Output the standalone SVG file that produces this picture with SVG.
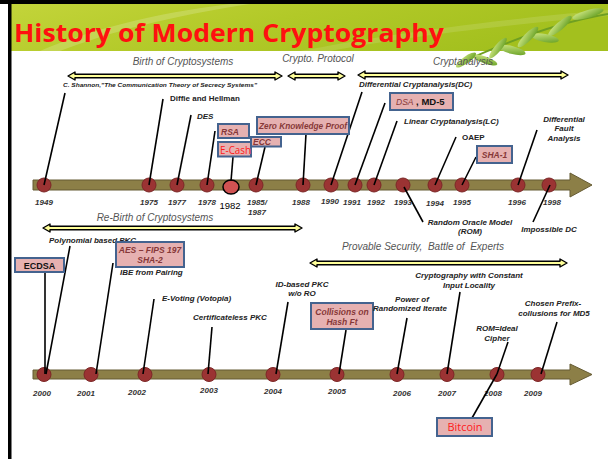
<svg xmlns="http://www.w3.org/2000/svg" width="608" height="459" viewBox="0 0 608 459">
<defs>
<linearGradient id="hdr" x1="0" y1="0" x2="1" y2="0.3">
<stop offset="0" stop-color="#c3d43a"/>
<stop offset="0.5" stop-color="#b2c928"/>
<stop offset="1" stop-color="#a3c01e"/>
</linearGradient>
<linearGradient id="leaf" x1="0" y1="0" x2="1" y2="1">
<stop offset="0" stop-color="#d6ec8a"/>
<stop offset="1" stop-color="#5e9a1c"/>
</linearGradient>
<style>
.t{font-family:"Liberation Sans",Arial,sans-serif;font-weight:bold;font-style:italic;font-size:8px;fill:#222}
.u{font-family:"Liberation Sans",Arial,sans-serif;font-weight:bold;font-size:8px;fill:#222}
.yr{font-family:"Liberation Sans",Arial,sans-serif;font-weight:bold;font-style:italic;font-size:8px;fill:#333;text-anchor:middle}
.sec{font-family:"Liberation Sans",Arial,sans-serif;font-style:italic;font-size:10px;fill:#555;text-anchor:middle;white-space:pre}
.bx{fill:#e6b1b1;stroke:#44638f;stroke-width:2}
.bt{font-family:"Liberation Sans",Arial,sans-serif;font-weight:bold;font-style:italic;font-size:8.5px;fill:#863838}
.rd{font-family:"Open Sans","Liberation Sans",sans-serif;font-size:11px;fill:#ff1a1a}
.dot{fill:#9b3333;stroke:#7c2727;stroke-width:1}
.bar{fill:#8c7f47;stroke:#655b33;stroke-width:1}
.da{fill:#ffff99;stroke:#000;stroke-width:1.4;stroke-linejoin:round}
.c line{stroke:#000;stroke-width:1.6}
.m{text-anchor:middle}
</style>
</defs>
<rect width="608" height="459" fill="#fff"/>
<g id="header">
<rect x="11" y="4" width="597" height="47" fill="url(#hdr)"/>
<path d="M40 51 C90 30 150 14 230 4 L250 4 C170 16 110 32 60 51 Z" fill="#ffffff" opacity="0.18"/>
<path d="M300 51 C380 36 470 22 608 10 L608 16 C470 28 390 40 330 51 Z" fill="#ffffff" opacity="0.12"/>
<rect x="0" y="0" width="608" height="4" fill="#000"/>
<rect x="8" y="0" width="3.5" height="459" fill="#000"/>
<text x="14" y="42" font-family="Open Sans,Liberation Sans,sans-serif" font-weight="bold" font-size="25" fill="#ff1010" textLength="430" lengthAdjust="spacingAndGlyphs">History of Modern Cryptography</text>
</g>
<g id="leaves">
<path d="M608 14 C560 22 510 40 458 64" fill="none" stroke="#6f9f22" stroke-width="2"/>
<ellipse cx="588" cy="14" rx="16" ry="4" transform="rotate(-15 588 14)" fill="url(#leaf)"/>
<ellipse cx="560" cy="26" rx="15" ry="4" transform="rotate(-40 560 26)" fill="url(#leaf)"/>
<ellipse cx="545" cy="38" rx="14" ry="4" transform="rotate(10 545 38)" fill="url(#leaf)"/>
<ellipse cx="528" cy="37" rx="14" ry="4" transform="rotate(-45 528 37)" fill="url(#leaf)"/>
<ellipse cx="512" cy="50" rx="14" ry="4" transform="rotate(15 512 50)" fill="url(#leaf)"/>
<ellipse cx="498" cy="48" rx="13" ry="3.5" transform="rotate(-50 498 48)" fill="url(#leaf)"/>
<ellipse cx="485" cy="60" rx="13" ry="3.5" transform="rotate(20 485 60)" fill="url(#leaf)"/>
<ellipse cx="466" cy="60" rx="12" ry="3.5" transform="rotate(-35 466 60)" fill="url(#leaf)"/>
</g>
<g id="sections">
<text class="sec" x="183" y="65">Birth of Cryptosystems</text>
<text class="sec" x="318" y="62">Crypto. Protocol</text>
<text class="sec" x="463" y="65">Cryptanalysis</text>
<path class="da" d="M68 76 L75 72 L75 74.2 L275 74.2 L275 72 L282 76 L275 80 L275 77.8 L75 77.8 L75 80 Z"/>
<path class="da" d="M288 76 L295 72 L295 74.2 L338 74.2 L338 72 L345 76 L338 80 L338 77.8 L295 77.8 L295 80 Z"/>
<path class="da" d="M358 75 L365 71 L365 73.2 L561 73.2 L561 71 L568 75 L561 79 L561 76.8 L365 76.8 L365 79 Z"/>
<text class="sec" x="155" y="221">Re-Birth of Cryptosystems</text>
<text class="sec" x="423" y="250">Provable Security,  Battle of  Experts</text>
<path class="da" d="M43 228 L50 224 L50 226.2 L295 226.2 L295 224 L302 228 L295 232 L295 229.8 L50 229.8 L50 232 Z"/>
<path class="da" d="M310 263 L317 259 L317 261.2 L560 261.2 L560 259 L567 263 L560 267 L560 264.8 L317 264.8 L317 267 Z"/>
</g>
<g id="timeline-top">
<path class="bar" d="M33 180 H570 V173 L592 185 L570 197 V190 H33 Z"/>
<circle class="dot" cx="44" cy="185" r="7"/>
<circle class="dot" cx="149" cy="185" r="7"/>
<circle class="dot" cx="177" cy="185" r="7"/>
<circle class="dot" cx="207" cy="185" r="7"/>
<ellipse cx="231" cy="187" rx="8" ry="7" fill="#d05252" stroke="#000" stroke-width="1.5"/>
<circle class="dot" cx="256" cy="185" r="7"/>
<circle class="dot" cx="303" cy="185" r="7"/>
<circle class="dot" cx="331" cy="185" r="7"/>
<circle class="dot" cx="355" cy="185" r="7"/>
<circle class="dot" cx="374" cy="185" r="7"/>
<circle class="dot" cx="403" cy="185" r="7"/>
<circle class="dot" cx="435" cy="185" r="7"/>
<circle class="dot" cx="462" cy="185" r="7"/>
<circle class="dot" cx="518" cy="185" r="7"/>
<circle class="dot" cx="549" cy="185" r="7"/>
<text class="yr" x="44" y="205">1949</text>
<text class="yr" x="149" y="205">1975</text>
<text class="yr" x="177" y="205">1977</text>
<text class="yr" x="207" y="205">1978</text>
<text x="230" y="209" font-family="Liberation Sans,Arial,sans-serif" font-size="9.5" fill="#000" text-anchor="middle">1982</text>
<text class="yr" x="257" y="205">1985/</text>
<text class="yr" x="257" y="215">1987</text>
<text class="yr" x="301" y="205">1988</text>
<text class="yr" x="330" y="204">1990</text>
<text class="yr" x="352" y="205">1991</text>
<text class="yr" x="376" y="205">1992</text>
<text class="yr" x="403" y="205">1993</text>
<text class="yr" x="435" y="206">1994</text>
<text class="yr" x="462" y="205">1995</text>
<text class="yr" x="517" y="205">1996</text>
<text class="yr" x="552" y="205">1998</text>
</g>
<g id="timeline-bottom">
<path class="bar" d="M33 370 H570 V364 L592 374.5 L570 385 V379 H33 Z"/>
<circle class="dot" cx="44" cy="374.5" r="7"/>
<circle class="dot" cx="91" cy="374.5" r="7"/>
<circle class="dot" cx="145" cy="374.5" r="7"/>
<circle class="dot" cx="209" cy="374.5" r="7"/>
<circle class="dot" cx="273" cy="374.5" r="7"/>
<circle class="dot" cx="337" cy="374.5" r="7"/>
<circle class="dot" cx="397" cy="374.5" r="7"/>
<circle class="dot" cx="447" cy="374.5" r="7"/>
<circle class="dot" cx="497" cy="374.5" r="7"/>
<circle class="dot" cx="538" cy="374.5" r="7"/>
<text class="yr" x="42" y="396">2000</text>
<text class="yr" x="86" y="396">2001</text>
<text class="yr" x="137" y="395">2002</text>
<text class="yr" x="209" y="393">2003</text>
<text class="yr" x="273" y="394">2004</text>
<text class="yr" x="337" y="394">2005</text>
<text class="yr" x="402" y="396">2006</text>
<text class="yr" x="447" y="396">2007</text>
<text class="yr" x="493" y="396">2008</text>
<text class="yr" x="533" y="396">2009</text>
</g>
<g id="connectors" class="c">
<line x1="65" y1="93" x2="44" y2="185"/>
<line x1="163" y1="99" x2="149" y2="185"/>
<line x1="191" y1="115" x2="177" y2="185"/>
<line x1="215" y1="131" x2="207" y2="185"/>
<line x1="233" y1="157" x2="231" y2="181"/>
<line x1="265" y1="147" x2="256" y2="185"/>
<line x1="306" y1="134" x2="303" y2="185"/>
<line x1="362" y1="92" x2="331" y2="185"/>
<line x1="385" y1="103" x2="355" y2="185"/>
<line x1="397" y1="121" x2="374" y2="185"/>
<line x1="456" y1="137" x2="435" y2="185"/>
<line x1="476" y1="157" x2="462" y2="185"/>
<line x1="537" y1="130" x2="518" y2="185"/>
<line x1="404" y1="187" x2="423" y2="222"/>
<line x1="550" y1="185" x2="533" y2="222"/>
<line x1="70" y1="246" x2="46" y2="374"/>
<line x1="45" y1="272" x2="45" y2="374"/>
<line x1="113" y1="263" x2="96" y2="374"/>
<line x1="154" y1="299" x2="143" y2="374"/>
<line x1="212" y1="327" x2="208" y2="374"/>
<line x1="288" y1="302" x2="276" y2="374"/>
<line x1="346" y1="330" x2="339" y2="374"/>
<line x1="407" y1="318" x2="397" y2="374"/>
<line x1="460" y1="292" x2="447" y2="374"/>
<line x1="508" y1="342" x2="497" y2="374"/>
<line x1="497" y1="374" x2="472" y2="418"/>
<line x1="557" y1="322" x2="541" y2="374"/>
</g>
<g id="n-shannon"><text class="t" x="63" y="87" font-size="6" style="font-size:6px" textLength="194" lengthAdjust="spacingAndGlyphs">C. Shannon,"The Communication Theory of Secrecy Systems"</text></g>
<g id="n-dh"><text class="u" x="170" y="101">Diffie and Hellman</text></g>
<g id="n-des"><text class="t" x="197" y="119">DES</text></g>
<g id="n-rsa"><rect class="bx" x="218" y="124" width="31" height="14"/><text class="bt" x="221" y="134.5">RSA</text></g>
<g id="n-ecash"><rect class="bx" x="218" y="142" width="33" height="14.5"/><text class="rd" x="220" y="153.5" textLength="31" lengthAdjust="spacingAndGlyphs">E-Cash</text></g>
<g id="n-ecc"><rect class="bx" x="251" y="137" width="30" height="9.5"/><text class="bt" x="253" y="145">ECC</text></g>
<g id="n-zkp"><rect class="bx" x="257" y="117" width="92" height="17"/><text class="bt m" x="303" y="129" textLength="88" lengthAdjust="spacingAndGlyphs">Zero Knowledge Proof</text></g>
<g id="n-dc"><text class="t" x="359" y="87">Differential Cryptanalysis(DC)</text></g>
<g id="n-dsa"><rect class="bx" x="390" y="93" width="63" height="17"/><text x="396" y="105"><tspan class="bt" style="font-weight:normal">DSA</tspan><tspan font-family="Liberation Sans,Arial,sans-serif" font-weight="bold" font-size="9.5" fill="#111"> , MD-5</tspan></text></g>
<g id="n-lc"><text class="t" x="404" y="124">Linear Cryptanalysis(LC)</text></g>
<g id="n-oaep"><text class="u" x="462" y="140">OAEP</text></g>
<g id="n-sha1"><rect class="bx" x="477" y="146" width="35" height="17"/><text class="bt m" x="494.5" y="157.5">SHA-1</text></g>
<g id="n-dfa"><text class="t m" x="564" y="122">Differential</text><text class="t m" x="564" y="131">Fault</text><text class="t m" x="564" y="141">Analysis</text></g>
<g id="n-rom"><text class="t m" x="470" y="225">Random Oracle Model</text><text class="t m" x="470" y="234">(ROM)</text></g>
<g id="n-idc"><text class="t m" x="549" y="232">Impossible DC</text></g>
<g id="n-poly"><text class="t" x="49" y="243">Polynomial based PKC</text></g>
<g id="n-ecdsa"><rect class="bx" x="15" y="258" width="49" height="14"/><text class="u m" x="39.5" y="268.5" style="font-size:9px;fill:#111">ECDSA</text></g>
<g id="n-aes"><rect class="bx" x="116" y="242" width="68" height="25"/><text class="bt m" x="150" y="253">AES – FIPS 197</text><text class="bt m" x="150" y="263">SHA-2</text></g>
<g id="n-ibe"><text class="t" x="120" y="275">IBE from Pairing</text></g>
<g id="n-evote"><text class="t" x="162" y="301">E-Voting (Votopia)</text></g>
<g id="n-clpkc"><text class="t" x="193" y="320">Certificateless PKC</text></g>
<g id="n-idpkc"><text class="t m" x="302" y="287">ID-based PKC</text><text class="t m" x="302" y="296">w/o RO</text></g>
<g id="n-coll"><rect class="bx" x="311" y="303" width="62" height="26"/><text class="bt m" x="342" y="315">Collisions on</text><text class="bt m" x="342" y="325">Hash Ft</text></g>
<g id="n-power"><text class="t m" x="412" y="302">Power of</text><text class="t m" x="410" y="311">Randomized Iterate</text></g>
<g id="n-const"><text class="t m" x="469" y="278">Cryptography with Constant</text><text class="t m" x="469" y="288">Input Locality</text></g>
<g id="n-romic"><text class="t m" x="497" y="331">ROM=Ideal</text><text class="t m" x="497" y="341">Cipher</text></g>
<g id="n-bitcoin"><rect class="bx" x="437" y="418" width="55" height="18"/><text class="rd m" x="465" y="431">Bitcoin</text></g>
<g id="n-chosen"><text class="t m" x="553" y="306">Chosen Prefix-</text><text class="t m" x="554" y="316">collusions for MD5</text></g>
</svg>
